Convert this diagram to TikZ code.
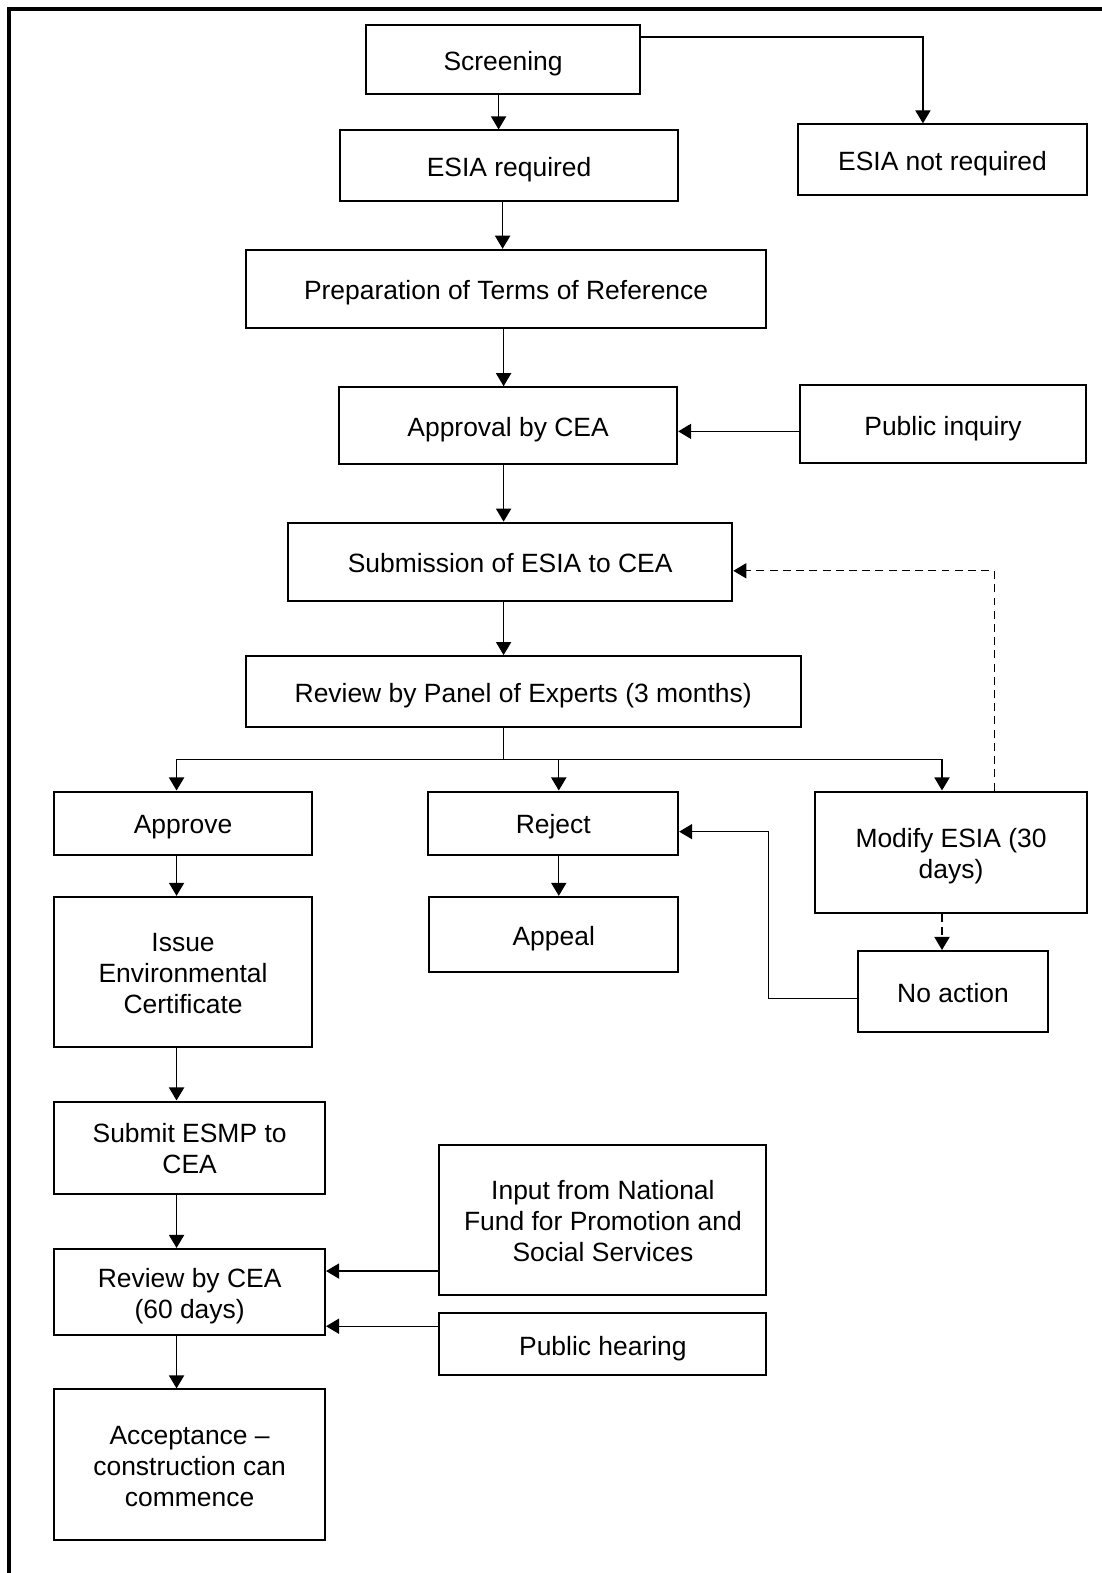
\documentclass[tikz,border=0pt]{standalone}
\usepackage{fontspec}
\setmainfont{Liberation Sans}
\usetikzlibrary{arrows.meta}
\tikzset{
  box/.style={draw, line width=1.15pt, inner sep=0pt, align=center,
    font=\fontsize{15pt}{17.6pt}\selectfont},
  conn/.style={line width=0.75pt},
  arr/.style={conn, -{Triangle[length=7.4pt,width=8.6pt]}},
  dsh/.style={dash pattern=on 4.5pt off 3pt},
  frame/.style={line width=2.3pt}
}
\newcommand\bx[6]{\node[box, minimum width={(#4-#2)*0.02cm}, minimum height={(#5-#3)*0.02cm}] (#1) at ({(#2+#4)/2},{(#3+#5)/2}) {\rule{0pt}{15.48pt}#6\rule[-3.3pt]{0pt}{3.3pt}};}
\begin{document}
\begin{tikzpicture}[x=0.02cm,y=-0.02cm]
\useasboundingbox (0,0) rectangle (1098,1568);
\draw[frame] (1098,9) -- (9,9) -- (9,1568);
% boxes
\bx{scr}{365}{25}{638}{94}{Screening}
\bx{esr}{339}{130}{676}{200}{ESIA required}
\bx{enr}{795}{124}{1084}{194}{ESIA not required}
\bx{prep}{245}{249}{764}{327}{Preparation of Terms of Reference}
\bx{appr}{338}{386}{675}{463}{Approval by CEA}
\bx{pinq}{797}{384}{1083}{462}{Public inquiry}
\bx{sub}{287}{521}{730}{599}{Submission of ESIA to CEA}
\bx{rev}{245}{654}{798}{725}{Review by Panel of Experts (3 months)}
\bx{apv}{54}{789}{311}{852}{Approve}
\bx{rej}{427}{789}{676}{852}{Reject}
\bx{mod}{812}{789}{1084}{910}{Modify ESIA (30\\days)}
\bx{app}{428}{894}{676}{969}{Appeal}
\bx{noa}{855}{948}{1045}{1029}{No action}
\bx{iss}{54}{894}{311}{1044}{Issue\\Environmental\\Certificate}
\bx{esmp}{54}{1098}{324}{1190}{Submit ESMP to\\CEA}
\bx{inp}{438}{1141}{764}{1291}{Input from National\\Fund for Promotion and\\Social Services}
\bx{rcea}{54}{1245}{324}{1331}{Review by CEA\\(60 days)}
\bx{ph}{438}{1309}{764}{1371}{Public hearing}
\bx{acc}{54}{1385}{324}{1535}{Acceptance --\\construction can\\commence}
% connectors
\draw[arr] (497,0 |- scr.south) -- (497,0 |- esr.north);
\draw[arr] (scr.east |- 0,37) -| (920,0 |- enr.north);
\draw[arr] (501,0 |- esr.south) -- (501,0 |- prep.north);
\draw[arr] (502,0 |- prep.south) -- (502,0 |- appr.north);
\draw[arr] (pinq.west |- 0,430) -- (appr.east |- 0,430);
\draw[arr] (502,0 |- appr.south) -- (502,0 |- sub.north);
\draw[arr] (502,0 |- sub.south) -- (502,0 |- rev.north);
\coordinate (split) at (502,757);
\draw[arr] (502,0 |- rev.south) -- (split) -| (176,0 |- apv.north);
\draw[arr] (split) -| (939,0 |- mod.north);
\draw[arr] (557,0 |- split) -- (557,0 |- rej.north);
\draw[arr,dsh] (991,0 |- mod.north) |- (sub.east |- 0,569);
\draw[arr,dsh] (939,0 |- mod.south) -- (939,0 |- noa.north);
\draw[arr] (noa.west |- 0,995) -| (766,829) -- (rej.east |- 0,829);
\draw[arr] (557,0 |- rej.south) -- (557,0 |- app.north);
\draw[arr] (176,0 |- apv.south) -- (176,0 |- iss.north);
\draw[arr] (176,0 |- iss.south) -- (176,0 |- esmp.north);
\draw[arr] (176,0 |- esmp.south) -- (176,0 |- rcea.north);
\draw[arr] (inp.west |- 0,1267) -- (rcea.east |- 0,1267);
\draw[arr] (ph.west |- 0,1322) -- (rcea.east |- 0,1322);
\draw[arr] (176,0 |- rcea.south) -- (176,0 |- acc.north);
\end{tikzpicture}
\end{document}
